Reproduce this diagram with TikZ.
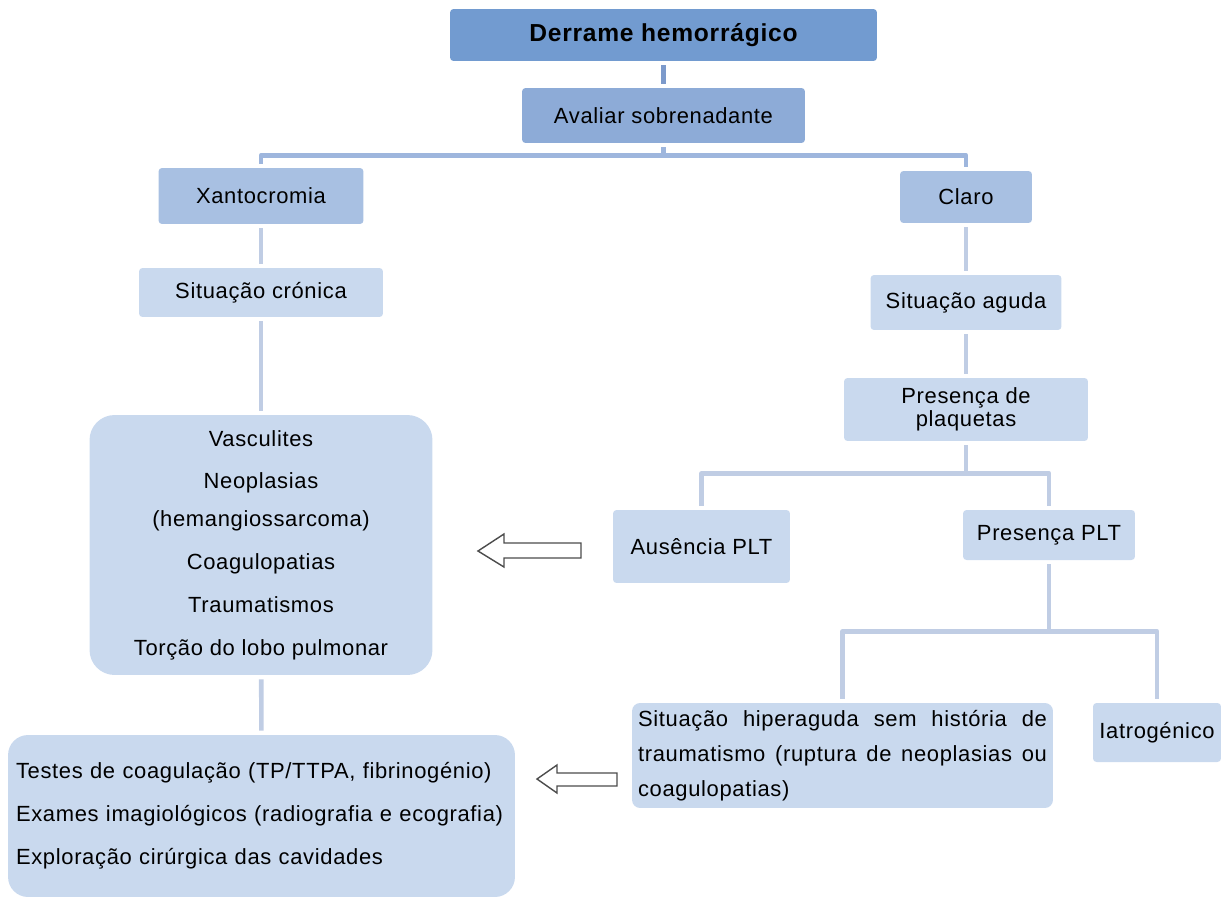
\documentclass[tikz,border=0pt]{standalone}
\usepackage{fontspec}
\setmainfont{Liberation Sans}[LetterSpace=3.0]
\usepackage{tikz}
\usetikzlibrary{calc}
\definecolor{topo}{RGB}{114,155,208}
\definecolor{nivel1}{RGB}{141,171,215}
\definecolor{nivel2}{RGB}{168,192,226}
\definecolor{nivel3}{RGB}{201,217,238}
\definecolor{linha1}{RGB}{124,154,203}
\definecolor{linha2}{RGB}{158,182,221}
\definecolor{linha3}{RGB}{192,205,228}
\tikzset{
  caixa/.style={fill=#1,draw=none,rounded corners=2pt,inner sep=0pt,align=center,
    font=\fontsize{12.5}{15}\selectfont},
  lig/.style={draw=#1,line width=2.6pt,line join=round,shorten <=0.08cm,shorten >=0.08cm},
  seta/.style={draw=black!70,line width=0.8pt,fill=white,line join=miter}
}
\begin{document}
\begin{tikzpicture}[x=0.02cm,y=-0.02cm]
\useasboundingbox (0,0) rectangle (1221,899);
% caixas
\node[caixa=topo,minimum width=8.54cm,minimum height=1.04cm,font=\bfseries\fontsize{14}{17}\selectfont] (derrame) at (663.5,35) {Derrame hemorrágico};
\node[caixa=nivel1,minimum width=5.66cm,minimum height=1.10cm] (avaliar) at (663.5,115.5) {Avaliar sobrenadante};
\node[caixa=nivel2,minimum width=4.10cm,minimum height=1.12cm] (xanto) at (261,196) {Xantocromia};
\node[caixa=nivel2,minimum width=2.64cm,minimum height=1.04cm] (claro) at (966,197) {Claro};
\node[caixa=nivel3,minimum width=4.88cm,minimum height=0.98cm] (cronica) at (261,292.5) {Situação crónica};
\node[caixa=nivel3,minimum width=3.82cm,minimum height=1.10cm] (aguda) at (966,302.5) {Situação aguda};
\node[caixa=nivel3,minimum width=4.88cm,minimum height=1.26cm,font=\fontsize{12.5}{13}\selectfont] (plaquetas) at (966,409.5) {Presença de\\plaquetas};
\node[caixa=nivel3,minimum width=3.54cm,minimum height=1.46cm] (ausencia) at (701.5,546.5) {Ausência PLT};
\node[caixa=nivel3,minimum width=3.44cm,minimum height=1.00cm] (presenca) at (1049,535) {Presença PLT};
\node[caixa=nivel3,rounded corners=0.5cm,minimum width=6.86cm,minimum height=5.20cm] (causas) at (261,545)
  {Vasculites\\[9.4pt] Neoplasias\\[6.5pt] (hemangiossarcoma)\\[9.4pt] Coagulopatias\\[9.4pt] Traumatismos\\[9.4pt] Torção do lobo pulmonar};
\node[caixa=nivel3,rounded corners=0.16cm,minimum height=2.10cm,text width=8.18cm,inner xsep=0.12cm,
  align=justify,font=\fontsize{12.5}{20}\selectfont] (hiper) at (842.5,755.5)
  {Situação hiperaguda sem história de traumatismo (ruptura de neoplasias ou coagulopatias)};
\node[caixa=nivel3,minimum width=2.56cm,minimum height=1.18cm] (iatro) at (1157,732.5) {Iatrogénico};
\node[caixa=nivel3,rounded corners=0.4cm,minimum height=3.24cm,text width=9.82cm,inner xsep=0.16cm,align=left] (exames) at (261.5,816)
  {Testes de coagulação (TP/TTPA, fibrinogénio)\\[9.4pt] Exames imagiológicos (radiografia e ecografia)\\[9.4pt] Exploração cirúrgica das cavidades};
% ligacoes
\draw[lig=linha1] (derrame) -- (avaliar);
\draw[lig=linha2] (avaliar.south) -- ++(0,12) -| (xanto.north);
\draw[lig=linha2] (avaliar.south) -- ++(0,12) -| (claro.north);
\draw[lig=linha3] (xanto) -- (cronica);
\draw[lig=linha3] (cronica) -- (causas);
\draw[lig=linha3] (causas) -- (exames);
\draw[lig=linha3] (claro) -- (aguda);
\draw[lig=linha3] (aguda) -- (plaquetas);
\draw[lig=linha3] (plaquetas.south) -- ++(0,32) -| (ausencia.north);
\draw[lig=linha3] (plaquetas.south) -- ++(0,32) -| (presenca.north);
\draw[lig=linha3] (presenca.south) -- ++(0,71) -| (hiper.north);
\draw[lig=linha3] (presenca.south) -- ++(0,71) -| (iatro.north);
% setas
\draw[seta] (581,543) -- (504,543) -- (504,534) -- (478,551) -- (504,567) -- (504,558) -- (581,558) -- cycle;
\draw[seta] (617,773) -- (557,773) -- (557,765) -- (537,779) -- (557,793) -- (557,786) -- (617,786) -- cycle;
\end{tikzpicture}
\end{document}
